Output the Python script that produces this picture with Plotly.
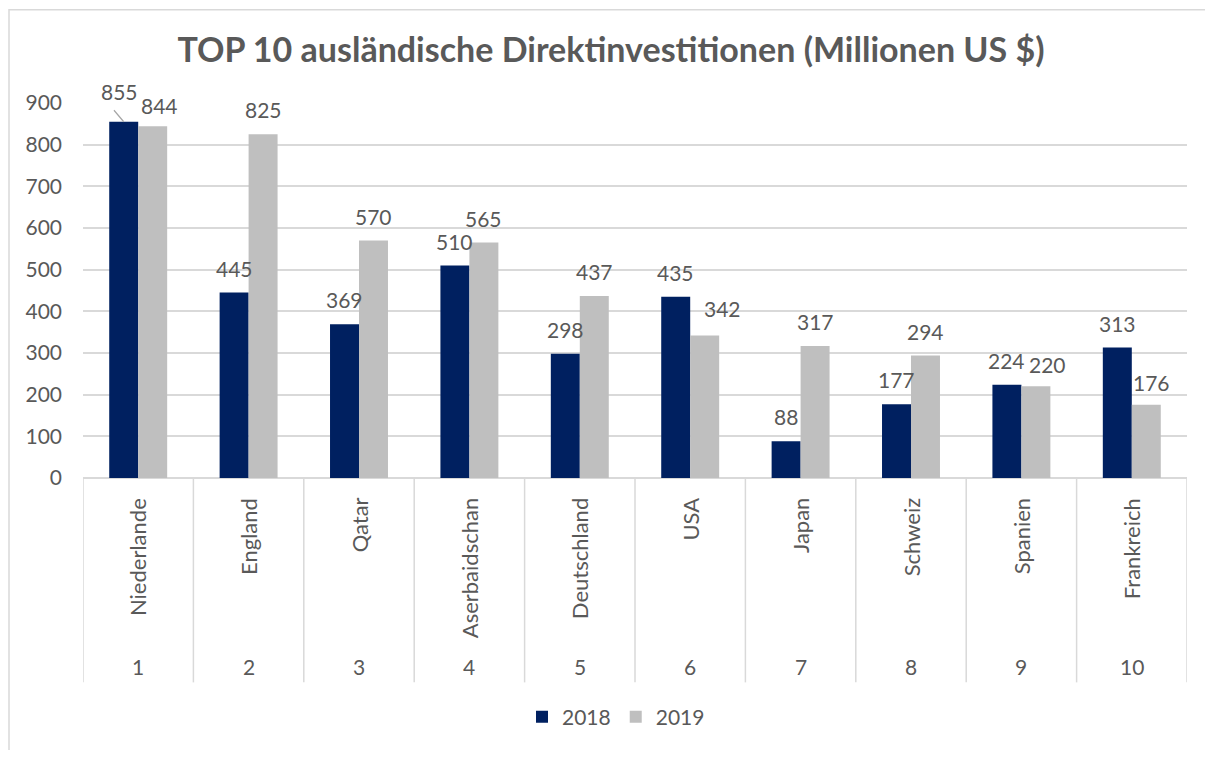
import plotly.graph_objects as go

ranks = ["1", "2", "3", "4", "5", "6", "7", "8", "9", "10"]
countries = ["Niederlande", "England", "Qatar", "Aserbaidschan", "Deutschland",
             "USA", "Japan", "Schweiz", "Spanien", "Frankreich"]
values_2018 = [855, 445, 369, 510, 298, 435, 88, 177, 224, 313]
values_2019 = [844, 825, 570, 565, 437, 342, 317, 294, 220, 176]

C2018 = "#002060"
C2019 = "#BFBFBF"
TXT = "#595959"
GRID = "#D9D9D9"
FONT = "Lato, Open Sans, sans-serif"

# page has an 8px body margin; lay out in screen pixels and convert
OFF = 8
W, H = 1213 - 2 * OFF, 758 - 2 * OFF
ML = 83 - OFF
MT = 103 - OFF
MR = W - (1187 - OFF)
MB = H - (481 - OFF)
PW = W - ML - MR
PH = H - MT - MB

def sx(px):
    return (px - OFF - ML) / PW

def sy(py):
    return (H - MB - (py - OFF)) / PH

xpos = list(range(1, len(ranks) + 1))
bargap = 0.475
bw = (1 - bargap) / 2

# manual nudges (pixels) for data labels that Excel moved to avoid collisions
nudge_2019 = {0: (7, -4), 5: (18, 3), 8: (12, -3), 9: (5, -2)}

fig = go.Figure()
fig.add_trace(go.Bar(x=xpos, y=values_2018, name="2018", marker_color=C2018,
                     marker_line_width=0))
fig.add_trace(go.Bar(x=xpos, y=values_2019, name="2019", marker_color=C2019,
                     marker_line_width=0))

NUMF = dict(size=21, color=TXT, family=FONT)
annotations = []
for i, (v1, v2) in enumerate(zip(values_2018, values_2019)):
    x = xpos[i]
    if i == 0:
        annotations.append(dict(x=x - bw / 2, y=v1, xref="x", yref="y", text="",
                                showarrow=True, arrowhead=0, arrowwidth=1.2,
                                arrowcolor="#A6A6A6", ax=-11, ay=-13))
        annotations.append(dict(x=x - bw / 2, y=v1, xref="x", yref="y", text=str(v1),
                                showarrow=False, yanchor="bottom", yshift=16, xshift=-4,
                                font=NUMF))
    else:
        annotations.append(dict(x=x - bw / 2, y=v1, xref="x", yref="y", text=str(v1),
                                showarrow=False, yanchor="bottom", yshift=10,
                                font=NUMF))
    dx, dy = nudge_2019.get(i, (0, 0))
    annotations.append(dict(x=x + bw / 2, y=v2, xref="x", yref="y", text=str(v2),
                            showarrow=False, yanchor="bottom", yshift=10 + dy, xshift=dx,
                            font=NUMF))
    annotations.append(dict(x=x, y=sy(499), xref="x", yref="paper",
                            text=countries[i], textangle=-90, showarrow=False,
                            xanchor="center", yanchor="top",
                            font=dict(size=22, color=TXT, family=FONT)))
    annotations.append(dict(x=x, y=sy(671), xref="x", yref="paper",
                            text=ranks[i], showarrow=False,
                            xanchor="center", yanchor="middle", font=NUMF))

shapes = []
for k in range(len(ranks) + 1):
    shapes.append(dict(type="line", xref="x", yref="paper",
                       x0=0.5 + k, x1=0.5 + k, y0=0, y1=sy(687),
                       line=dict(color=GRID, width=1.5)))
shapes.append(dict(type="rect", xref="paper", yref="paper",
                   x0=sx(OFF + 1), x1=sx(1230), y0=sy(775), y1=sy(OFF + 1),
                   line=dict(color=GRID, width=1.5), fillcolor="rgba(0,0,0,0)"))

fig.update_layout(
    width=W, height=H,
    margin=dict(l=ML, r=MR, t=MT, b=MB),
    paper_bgcolor="white", plot_bgcolor="white",
    barmode="group", bargap=bargap, bargroupgap=0,
    title=dict(text="<b>TOP 10 ausländische Direktinvestitionen (Millionen US $)</b>",
               x=(611 - OFF) / W, xref="container", xanchor="center",
               y=1 - (50 - OFF) / H, yref="container", yanchor="middle",
               font=dict(size=34, color=TXT, family=FONT)),
    xaxis=dict(range=[0.5, len(ranks) + 0.5], showticklabels=False, showgrid=False,
               zeroline=False, showline=False, ticks=""),
    yaxis=dict(range=[0, 900], dtick=100, showgrid=True, gridcolor=GRID, gridwidth=1.5,
               zeroline=True, zerolinecolor=GRID, zerolinewidth=1.5,
               tickfont=NUMF, ticks="", ticklabelstandoff=20),
    legend=dict(orientation="h", x=sx(616), xanchor="center", xref="paper",
                y=sy(722), yanchor="middle", itemwidth=30,
                font=NUMF, traceorder="normal"),
    annotations=annotations,
    shapes=shapes,
    showlegend=True,
)

fig.write_html("out.html")
